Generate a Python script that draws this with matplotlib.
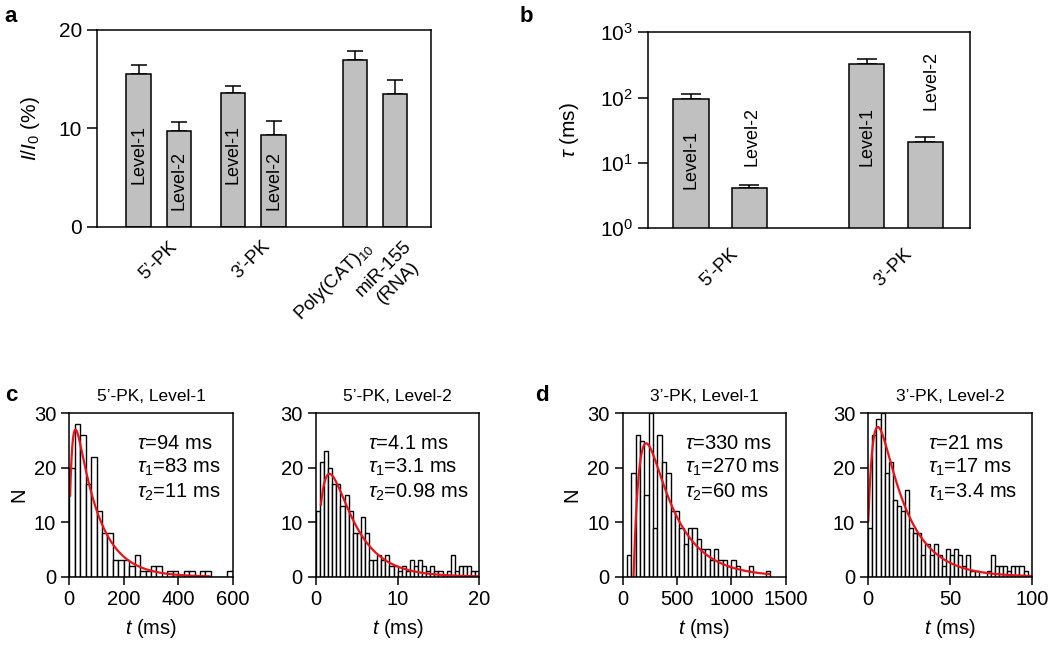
import numpy as np
import matplotlib
matplotlib.use('Agg')
import matplotlib.pyplot as plt

plt.rcParams['font.family'] = ['Liberation Sans', 'DejaVu Sans']
plt.rcParams['mathtext.fontset'] = 'custom'
plt.rcParams['mathtext.rm'] = 'Liberation Sans'
plt.rcParams['mathtext.it'] = 'Liberation Sans:italic'
plt.rcParams['mathtext.bf'] = 'Liberation Sans:bold'
plt.rcParams['axes.linewidth'] = 1.1

# ---- panel a: relative blockade I/I0 (%)
a_groups = ['5’-PK', '3’-PK', 'Poly(CAT)$_{10}$', 'miR-155\n(RNA)']
a_values = [15.5, 9.7, 13.6, 9.3, 17.0, 13.5]
a_err = [0.9, 0.9, 0.7, 1.4, 0.9, 1.4]
a_bar_text = ['Level-1', 'Level-2', 'Level-1', 'Level-2', '', '']

# ---- panel b: dwell time tau (ms)
b_groups = ['5’-PK', '3’-PK']
b_values = [94, 4.1, 330, 21]
b_err = [18, 0.5, 56, 4.3]
b_bar_text = ['Level-1', 'Level-2', 'Level-1', 'Level-2']

# ---- panels c, d: dwell time histograms
c1_counts = [20, 28, 26, 17, 22, 12, 8, 8, 3, 3, 3, 2, 4, 1, 1, 2, 2, 0, 1, 1,
             0, 1, 1, 0, 1, 1, 0, 0, 0, 1]
c2_counts = [12, 21, 23, 20, 17, 17, 13, 15, 12, 8, 8, 11, 8, 3, 3, 4, 3, 4, 2, 2,
             1, 2, 1, 3, 2, 3, 2, 1, 2, 1, 1, 0, 1, 4, 1, 2, 2, 2, 1, 1]
d1_counts = [4, 19, 26, 25, 15, 30, 9, 26, 21, 19, 12, 12, 9, 6, 9, 9, 7, 5, 5, 3,
             5, 3, 3, 2, 3, 2, 0, 0, 2, 0, 0, 0, 1]
d2_counts = [9, 26, 29, 30, 19, 21, 14, 13, 12, 16, 9, 8, 8, 4, 6, 4, 6, 4, 2, 5,
             4, 5, 4, 2, 4, 1, 1, 0, 0, 1, 4, 2, 2, 2, 1, 2, 2, 2, 1, 0]
hist_titles = ['5’-PK, Level-1', '5’-PK, Level-2', '3’-PK, Level-1', '3’-PK, Level-2']
hist_counts = [c1_counts, c2_counts, d1_counts, d2_counts]
bin_start = [0, 0, 40, 0]
bin_width = [20, 0.5, 40, 2.5]
hist_xmax = [600, 20, 1500, 100]
hist_xticks = [[0, 200, 400, 600], [0, 10, 20], [0, 500, 1000, 1500], [0, 50, 100]]
hist_text = [
    ['$\\tau$=94 ms', '$\\tau_1$=83 ms', '$\\tau_2$=11 ms'],
    ['$\\tau$=4.1 ms', '$\\tau_1$=3.1 ms', '$\\tau_2$=0.98 ms'],
    ['$\\tau$=330 ms', '$\\tau_1$=270 ms', '$\\tau_2$=60 ms'],
    ['$\\tau$=21 ms', '$\\tau_1$=17 ms', '$\\tau_1$=3.4 ms'],
]
# fitted curve: A*(exp(-(t-t0)/tau1) - exp(-(t-t0)/tau2))
fit_A = [42.4, 47, 48.4, 51.4]
fit_tau1 = [83, 3.1, 270, 17]
fit_tau2 = [11, 0.98, 60, 3.4]
fit_t0 = [-3, 0, 100, -1]
fit_range = [(3, 515), (0.6, 20), (100, 1350), (0, 100)]

W, H = 1050, 669
fig = plt.figure(figsize=(W / 100, H / 100), dpi=100)


def rect(l, r, t, b):
    return [l / W, (H - b) / H, (r - l) / W, (b - t) / H]


tick_fs = 15
gray = '#c0c0c0'

# panel a
ax = fig.add_axes(rect(96.7, 431, 30, 226.7))
xa = [1.04, 2.04, 3.38, 4.39, 6.41, 7.40]
ax.bar(xa, a_values, width=0.61, color=gray, edgecolor='black', lw=1.1, zorder=2)
ax.errorbar(xa, a_values, yerr=[np.zeros(6), a_err], fmt='none', ecolor='black',
            elinewidth=1.1, capsize=6, capthick=1.1, zorder=1)
for x, txt, pos in zip(xa, a_bar_text, [7.3, 4.7, 7.3, 4.7, 0, 0]):
    if txt:
        ax.text(x, pos, txt, rotation=90, ha='center', va='center', fontsize=13)
ax.set_xlim(0, 8.29)
ax.set_ylim(0, 20)
ax.set_yticks([0, 10, 20])
ax.set_xticks([1.78, 4.09, 6.61, 7.6])
ax.set_xticklabels(a_groups, rotation=45, ha='right', rotation_mode='anchor',
                   multialignment='center')
ax.tick_params(axis='x', length=0, labelsize=13.5, pad=8)
ax.tick_params(axis='y', direction='out', length=7, width=1.1, labelsize=tick_fs)
ax.set_ylabel('$I$/$I_0$ (%)', fontsize=tick_fs, labelpad=12)

# panel b
ax = fig.add_axes(rect(647.7, 970, 32.3, 228.3))
xb = [0.743, 1.743, 3.754, 4.76]
ax.bar(xb, b_values, width=0.611, bottom=0, color=gray, edgecolor='black', lw=1.1, zorder=2)
ax.errorbar(xb, b_values, yerr=[np.zeros(4), b_err], fmt='none', ecolor='black',
            elinewidth=1.1, capsize=7, capthick=1.1, zorder=1)
ax.set_yscale('log')
ax.set_ylim(1, 1000)
ax.set_xlim(0, 5.526)
b_text_pos = [(0.743, 11.5), (1.79, 25), (3.754, 25), (4.85, 180)]
for (x, y), txt in zip(b_text_pos, b_bar_text):
    ax.text(x, y, txt, rotation=90, ha='center', va='center', fontsize=13)
ax.set_xticks([1.41, 4.38])
ax.set_xticklabels(b_groups, rotation=45, ha='right', rotation_mode='anchor')
ax.tick_params(axis='x', length=0, labelsize=13.5, pad=12)
ax.tick_params(axis='y', which='major', direction='out', length=7, width=1.1, labelsize=tick_fs)
ax.tick_params(axis='y', which='minor', length=0)
ax.set_ylabel('$\\tau$ (ms)', fontsize=tick_fs, labelpad=14)

# panels c, d
hist_rects = [rect(69.3, 232.7, 413.3, 576.7), rect(316, 479.3, 413.3, 576.7),
              rect(622.7, 785.7, 413.3, 576.7), rect(868.3, 1031.7, 413.3, 576.7)]
text_x = [0.414, 0.32, 0.382, 0.367]
for i in range(4):
    ax = fig.add_axes(hist_rects[i])
    counts = np.array(hist_counts[i])
    edges = bin_start[i] + bin_width[i] * np.arange(len(counts))
    ax.bar(edges, counts, width=bin_width[i], align='edge', color='white',
           edgecolor='black', lw=1.0)
    t = np.linspace(fit_range[i][0], fit_range[i][1], 400)
    tt = t - fit_t0[i]
    f = fit_A[i] * (np.exp(-tt / fit_tau1[i]) - np.exp(-tt / fit_tau2[i]))
    ax.plot(t, f, color='#e8141b', lw=1.6)
    ax.set_xlim(0, hist_xmax[i])
    ax.set_ylim(0, 30)
    ax.set_xticks(hist_xticks[i])
    ax.set_yticks([0, 10, 20, 30])
    ax.tick_params(direction='out', length=6, width=1.1, labelsize=14.5)
    ax.set_title(hist_titles[i], fontsize=12.5, pad=9)
    ax.set_xlabel('$t$ (ms)', fontsize=14.5, labelpad=6)
    if i in (0, 2):
        ax.set_ylabel('N', fontsize=14.5, labelpad=4)
    for j, txt in enumerate(hist_text[i]):
        ax.text(text_x[i], [0.818, 0.668, 0.518][j], txt, transform=ax.transAxes,
                ha='left', va='center', fontsize=14.5)

# panel letters
for x, y, s in [(4, 6, 'a'), (520, 6, 'b'), (5, 385, 'c'), (535, 385, 'd')]:
    fig.text(x / W, 1 - y / H, s, fontsize=16, fontweight='bold', va='top', ha='left')

fig.savefig('out.png', dpi=100)
